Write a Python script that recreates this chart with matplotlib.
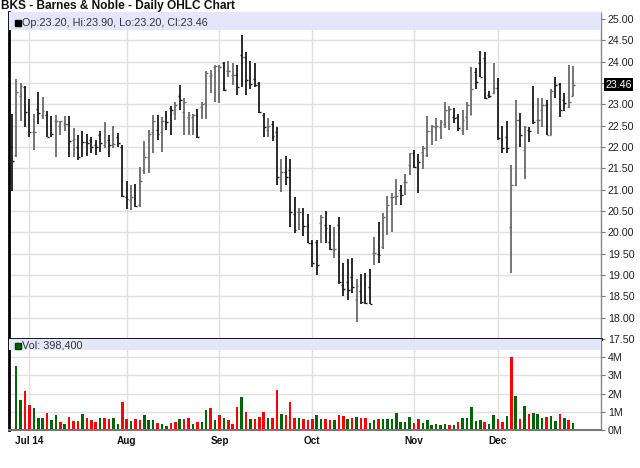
import numpy as np
import pandas as pd
import matplotlib
matplotlib.use("Agg")
import matplotlib.pyplot as plt
from matplotlib.patches import Rectangle
from matplotlib.ticker import FuncFormatter, FixedLocator
import matplotlib.transforms as mtransforms

plt.rcParams["font.family"] = ["Liberation Sans", "DejaVu Sans"]

# ---- data ----
start_date = "2014-06-25"
end_date = "2014-12-24"
holidays = ["2014-07-04", "2014-09-01", "2014-11-27"]

opens = [22.00, 21.81, 23.19, 23.41, 22.89, 22.36, 22.89, 22.75, 22.75, 22.50,
         22.60, 22.49, 22.55, 22.55, 22.16, 22.00, 22.16, 22.12, 22.16, 22.05,
         22.28, 22.05, 22.16, 22.07, 22.23, 22.00, 20.83, 20.75, 20.80, 20.63,
         21.45, 21.77, 22.35, 22.40, 22.35, 22.73, 22.92, 22.80, 23.20, 22.82,
         22.70, 22.70, 22.76, 22.93, 23.04, 23.67, 23.88, 23.18, 23.98, 23.77,
         23.69, 23.69, 24.16, 24.12, 23.84, 23.60, 23.49, 22.75, 22.40, 22.55,
         22.36, 21.26, 21.42, 21.47, 20.44, 20.48, 20.25, 20.15, 19.76, 19.78,
         20.21, 20.17, 19.78, 19.58, 20.17, 18.76, 18.84, 18.96, 18.43, 18.63,
         18.78, 18.72, 19.51, 19.50, 19.65, 20.37, 20.83, 20.85, 20.99, 21.19,
         21.58, 21.85, 21.69, 21.89, 21.81, 22.38, 22.48, 22.46, 22.54, 22.88,
         22.71, 22.71, 22.41, 22.71, 22.75, 23.76, 23.98, 24.08, 23.22, 23.27,
         23.38, 22.16, 22.24, 20.13, 21.10, 22.63, 21.93, 22.40, 22.63, 22.63,
         22.87, 22.98, 22.28, 23.53, 23.48, 23.10, 22.93, 23.20]
highs = [22.77, 23.59, 23.51, 23.43, 23.12, 22.77, 23.28, 23.18, 22.85, 22.73,
         22.75, 22.62, 22.73, 22.73, 22.44, 22.28, 22.38, 22.30, 22.24, 22.16,
         22.38, 22.59, 22.28, 22.49, 22.32, 22.05, 21.20, 21.10, 21.14, 21.53,
         22.14, 22.39, 22.76, 22.74, 22.70, 22.84, 22.95, 23.05, 23.45, 23.16,
         22.82, 22.78, 22.90, 23.06, 23.77, 23.80, 23.92, 23.92, 24.00, 24.02,
         23.96, 23.92, 24.63, 24.22, 24.02, 23.96, 23.52, 22.79, 22.67, 22.62,
         22.48, 21.73, 21.79, 21.71, 20.82, 20.56, 20.58, 20.44, 19.82, 19.82,
         20.40, 20.51, 20.17, 20.13, 20.37, 19.27, 19.37, 19.41, 18.90, 19.02,
         19.04, 19.15, 19.88, 20.25, 20.46, 20.85, 20.93, 21.26, 21.11, 21.37,
         21.87, 21.94, 21.84, 22.02, 22.73, 22.52, 22.69, 22.63, 23.06, 22.96,
         22.91, 22.77, 22.87, 23.06, 23.88, 23.84, 24.26, 24.22, 23.32, 23.96,
         23.61, 22.49, 22.62, 21.58, 23.10, 22.80, 22.49, 22.48, 23.43, 23.16,
         23.16, 23.09, 23.37, 23.63, 23.51, 23.27, 23.92, 23.90]
lows = [20.98, 21.76, 22.62, 22.46, 22.23, 21.94, 22.54, 22.65, 22.23, 22.24,
        21.76, 22.28, 22.38, 21.77, 21.76, 21.70, 21.76, 21.79, 21.85, 21.81,
        21.89, 21.97, 21.76, 21.97, 21.99, 20.83, 20.55, 20.52, 20.60, 20.60,
        21.37, 21.39, 21.86, 22.17, 21.88, 22.39, 22.27, 22.63, 22.86, 22.27,
        22.27, 22.27, 22.20, 22.65, 22.65, 23.27, 23.06, 23.04, 23.32, 23.65,
        23.45, 23.22, 23.41, 23.22, 23.35, 23.41, 22.80, 22.24, 22.24, 22.13,
        21.11, 20.95, 21.11, 20.13, 19.99, 20.05, 19.91, 19.76, 19.19, 19.00,
        19.76, 19.74, 19.58, 19.39, 18.80, 18.51, 18.41, 18.57, 17.90, 18.33,
        18.31, 18.32, 19.23, 19.27, 19.62, 19.94, 20.01, 20.64, 20.64, 20.87,
        21.34, 21.50, 20.93, 21.48, 21.77, 22.05, 22.15, 22.18, 22.44, 22.40,
        22.57, 22.38, 22.28, 22.40, 22.75, 23.37, 23.63, 23.12, 23.14, 23.24,
        22.16, 21.87, 21.85, 19.04, 21.08, 21.99, 21.24, 22.12, 22.55, 22.30,
        22.48, 22.28, 22.28, 23.16, 22.71, 22.85, 22.91, 23.20]
closes = [21.67, 23.30, 23.43, 22.81, 22.36, 22.36, 22.80, 22.85, 22.23, 22.30,
          22.62, 22.60, 22.55, 22.15, 22.19, 21.77, 22.12, 22.10, 21.99, 22.00,
          22.09, 22.12, 22.05, 22.07, 22.09, 20.85, 20.77, 20.83, 20.62, 21.20,
          21.77, 22.31, 22.62, 22.31, 22.62, 22.59, 22.86, 22.98, 23.10, 23.05,
          22.74, 22.74, 22.24, 23.00, 23.74, 23.69, 23.90, 23.88, 23.33, 23.77,
          23.69, 23.41, 24.12, 23.57, 23.48, 23.45, 22.83, 22.46, 22.49, 22.26,
          21.30, 21.42, 21.29, 20.48, 20.05, 20.48, 20.15, 19.76, 19.29, 19.23,
          20.37, 20.09, 19.60, 19.60, 18.84, 18.68, 18.65, 18.73, 18.74, 18.37,
          18.35, 18.33, 19.51, 19.47, 20.36, 20.64, 20.83, 20.85, 20.87, 21.19,
          21.85, 21.54, 21.66, 21.97, 22.38, 22.49, 22.49, 22.59, 22.87, 22.88,
          22.67, 22.44, 22.63, 22.98, 23.35, 23.53, 23.63, 23.16, 23.20, 23.38,
          22.20, 21.97, 21.97, 21.10, 22.63, 22.28, 22.48, 22.38, 22.59, 22.63,
          22.98, 22.28, 23.32, 23.45, 22.87, 23.04, 23.06, 23.46]

# volume in millions of shares, first bar has no visible volume
volume = [np.nan, 3.51, 1.64, 2.14, 1.37, 1.19, 0.64, 0.64, 0.93, 0.55,
          0.82, 0.44, 0.33, 0.73, 0.49, 0.49, 0.88, 0.68, 0.55, 0.44,
          0.68, 0.68, 0.58, 0.64, 0.33, 1.53, 0.58, 0.49, 0.58, 0.55,
          0.82, 0.55, 0.55, 0.38, 0.33, 0.24, 0.38, 0.44, 0.58, 0.58,
          0.64, 0.33, 0.44, 0.44, 1.10, 1.19, 0.55, 0.82, 0.64, 0.55,
          0.33, 1.28, 1.83, 0.99, 0.58, 0.58, 0.73, 0.99, 0.64, 0.68,
          2.19, 0.88, 0.82, 1.53, 0.68, 0.68, 0.58, 0.55, 0.58, 0.82,
          0.58, 0.58, 0.55, 0.55, 0.82, 0.77, 0.58, 0.64, 0.73, 0.64,
          0.64, 0.37, 0.55, 0.58, 0.58, 0.58, 0.58, 0.91, 0.44, 0.44,
          0.73, 0.37, 0.58, 0.40, 0.55, 0.27, 0.33, 0.27, 0.33, 0.27,
          0.27, 0.42, 0.64, 0.64, 1.24, 0.51, 0.55, 0.46, 0.33, 0.82,
          0.58, 0.44, 0.77, 3.98, 1.88, 0.58, 1.32, 0.88, 0.95, 0.88,
          0.64, 0.73, 0.77, 0.49, 0.88, 0.68, 0.55, 0.3984]
# 1 = up day (green volume), 0 = down day (red volume)
vol_up = [1, 1, 1, 0, 0, 1, 1, 1, 0, 1,
          1, 0, 1, 0, 0, 0, 1, 0, 0, 0,
          1, 0, 0, 1, 1, 0, 0, 1, 0, 0,
          1, 1, 1, 0, 1, 1, 0, 0, 1, 0,
          0, 1, 0, 1, 1, 0, 1, 0, 1, 0,
          0, 0, 1, 0, 1, 0, 0, 0, 1, 0,
          0, 1, 0, 0, 0, 1, 0, 0, 0, 1,
          1, 0, 0, 1, 0, 0, 1, 0, 1, 0,
          0, 1, 1, 0, 1, 1, 1, 1, 1, 1,
          1, 0, 0, 1, 1, 1, 1, 1, 1, 0,
          1, 0, 1, 1, 1, 1, 1, 0, 1, 1,
          0, 0, 1, 0, 1, 0, 1, 0, 1, 1,
          1, 0, 1, 1, 0, 1, 0, 1]

month_labels = ["Jul 14", "Aug", "Sep", "Oct", "Nov", "Dec"]
title = "BKS - Barnes & Noble - Daily OHLC Chart"

# ---- trading days ----
dates = pd.bdate_range(start_date, end_date)
dates = dates[~dates.isin(pd.to_datetime(holidays))]
idx = np.arange(len(dates))
months = dates.to_period("M")
first_of_month = [i for i in range(1, len(dates)) if months[i] != months[i - 1]]

o = np.array(opens); h = np.array(highs); l = np.array(lows); c = np.array(closes)
vol = np.array(volume)
last = c[-1]

# ---- figure ----
fig = plt.figure(figsize=(6.4, 4.68), dpi=100)
W, H = 640, 468
left, right = 9 / W, 601 / W
ax = fig.add_axes([left, 1 - 339 / H, right - left, (339 - 12) / H])
axv = fig.add_axes([left, 1 - 430 / H, right - left, (430 - 339) / H], sharex=ax)

grid_c = "#e0e0e0"
for a in (ax, axv):
    a.set_axisbelow(True)
    a.grid(True, color=grid_c, linewidth=1)
    a.yaxis.tick_right()
    a.tick_params(axis="y", length=3, width=0.8, color="#777777", labelsize=7.7,
                  pad=2, labelcolor="#222222")
    a.tick_params(axis="x", length=0)
    a.spines["left"].set_linewidth(2)
    a.spines["left"].set_color("black")
    a.spines["right"].set_color("#888888")
    a.spines["right"].set_linewidth(1)

ax.spines["top"].set_color("#cccccc")
ax.spines["top"].set_linewidth(0.8)
ax.spines["bottom"].set_linewidth(2)
ax.spines["bottom"].set_color("black")
axv.spines["top"].set_visible(False)
axv.spines["bottom"].set_color("#777777")
axv.spines["bottom"].set_linewidth(1.5)

# OHLC bars
up = c >= o
bar_col = np.where(up, "#6a6a6a", "#1a1a1a")
tick = 0.42
ax.vlines(idx, l, h, colors=bar_col, linewidth=1.3, zorder=2)
ax.hlines(o, idx - tick, idx, colors=bar_col, linewidth=1, zorder=2)
ax.hlines(c, idx, idx + tick, colors=bar_col, linewidth=1, zorder=2)

ax.set_xlim(-0.61, 133.3)
ax.set_ylim(17.5, 25 + 7 / 42.65)
ax.yaxis.set_major_locator(FixedLocator(np.arange(17.5, 25.01, 0.5)))
ax.yaxis.set_major_formatter(FuncFormatter(
    lambda v, p: "" if abs(v - last) < 0.1 else f"{v:.2f}"))
ax.set_xticks(first_of_month)
ax.tick_params(axis="x", labelbottom=False)

# volume bars
vcol = ["#006400" if u else "#ff0000" for u in vol_up]
axv.bar(idx, vol, width=0.58, color=vcol, zorder=2)
axv.set_ylim(0, 91 / 18.25)
axv.yaxis.set_major_locator(FixedLocator([0, 1, 2, 3, 4]))
axv.yaxis.set_major_formatter(FuncFormatter(lambda v, p: f"{v:.0f}M"))
axv.set_xticks(first_of_month)
axv.set_xticklabels(month_labels, fontweight="bold", fontsize=7.2)
axv.tick_params(axis="x", pad=4, labelcolor="#111111")

# legend bands
ax.add_patch(Rectangle((0, 1 - 17.5 / 327), 1, 17.5 / 327, transform=ax.transAxes,
                       facecolor="#e6e6fa", edgecolor="none", zorder=3))
axv.add_patch(Rectangle((0, 1 - 11 / 91), 1, 11 / 91, transform=axv.transAxes,
                        facecolor="#e6e6fa", edgecolor="none", zorder=3))

ax.plot([0.0145], [1 - 11 / 327], marker="s", ms=3.8, color="black",
        transform=ax.transAxes, zorder=4, clip_on=False)
ax.text(0.0225, 1 - 11 / 327,
        f"Op:{o[-1]:.2f}, Hi:{h[-1]:.2f}, Lo:{l[-1]:.2f}, Cl:{c[-1]:.2f}",
        transform=ax.transAxes, fontsize=7.8, color="#333333", va="center",
        ha="left", zorder=4)
axv.plot([0.0145], [1 - 6.5 / 91], marker="s", ms=3.8, color="#006400",
         markeredgecolor="#003300", transform=axv.transAxes, zorder=4, clip_on=False)
axv.text(0.0225, 1 - 6.5 / 91, f"Vol: {vol[-1] * 1e6:,.0f}",
         transform=axv.transAxes, fontsize=7.8, color="#333333", va="center",
         ha="left", zorder=4)

# last price marker on the right axis
trans = mtransforms.blended_transform_factory(ax.transAxes, ax.transData)
ax.text(1.0 + 4 / 592, last, f"{last:.2f}", transform=trans, fontsize=7.7,
        color="white", va="center", ha="left",
        bbox=dict(boxstyle="square,pad=0.12", facecolor="black", edgecolor="none"),
        clip_on=False, zorder=5)

fig.text(1 / W, 1 - 6.5 / H, title, fontsize=8.6, fontweight="bold",
         va="center", ha="left", color="#111111")

fig.savefig("out.png", dpi=100)
